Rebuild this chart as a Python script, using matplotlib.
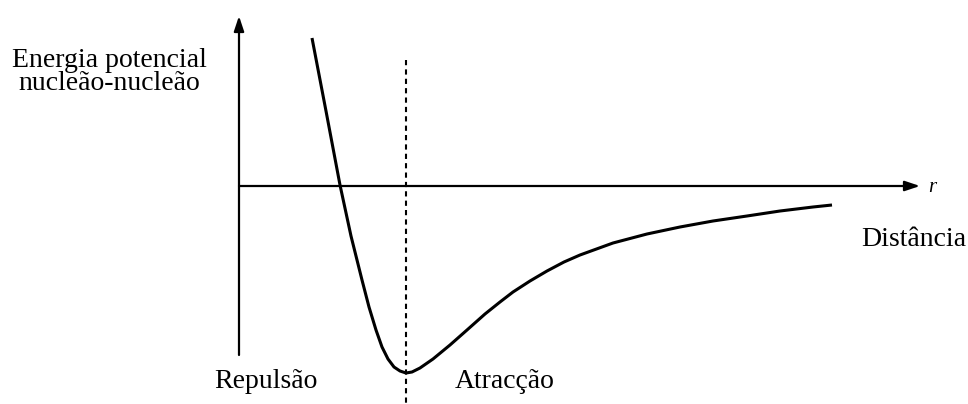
import matplotlib
matplotlib.use("Agg")
import matplotlib.pyplot as plt

# Curve data (arbitrary units: distance r, potential energy E)
r_vals = [0.73, 0.87, 1.01, 1.12, 1.23, 1.30, 1.37, 1.43, 1.49, 1.55, 1.61, 1.67,
          1.73, 1.81, 1.94, 2.11, 2.28, 2.46, 2.61, 2.74, 2.91, 3.08, 3.25, 3.41,
          3.74, 4.08, 4.41, 4.74, 5.08, 5.41, 5.74, 5.93]
E_vals = [1.47, 0.74, 0.0, -0.51, -0.95, -1.22, -1.45, -1.62, -1.74, -1.82, -1.86, -1.88,
          -1.87, -1.83, -1.74, -1.60, -1.45, -1.29, -1.17, -1.07, -0.96, -0.86, -0.77, -0.70,
          -0.58, -0.49, -0.42, -0.36, -0.31, -0.26, -0.22, -0.20]
r_min = 1.67

labels = {
    "ylabel": "Energia potencial\nnucleão-nucleão",
    "xlabel": "Distância",
    "axis": "r",
    "left": "Repulsão",
    "right": "Atracção",
}

plt.rcParams['font.family'] = ['Liberation Serif', 'DejaVu Serif']

fig = plt.figure(figsize=(9.68, 4.04), dpi=100)
ax = fig.add_axes([0, 0, 1, 1])
ax.set_xlim(-2.39, 7.29)
ax.set_ylim(-2.19, 1.85)
ax.axis('off')

astyle = "-|>,head_length=0.9,head_width=0.3"
# axes arrows
ax.annotate("", xy=(0, 1.69), xytext=(0, -1.70),
            arrowprops=dict(arrowstyle=astyle, color="black", lw=1.6,
                            mutation_scale=10, shrinkA=0, shrinkB=0))
ax.annotate("", xy=(6.81, -0.01), xytext=(0, -0.01),
            arrowprops=dict(arrowstyle=astyle, color="black", lw=1.6,
                            mutation_scale=10, shrinkA=0, shrinkB=0))

# dashed line at minimum
ax.plot([r_min, r_min], [1.25, -2.19], color="black", lw=1.5, ls=(0, (2.5, 2)))

# curve
ax.plot(r_vals, E_vals, color="black", lw=2.2, solid_joinstyle='round', solid_capstyle='butt')

ax.text(-1.30, 1.13, labels["ylabel"], ha='center', va='center', fontsize=20, linespacing=0.9)
ax.text(6.89, -0.03, labels["axis"], ha='left', va='center', fontsize=15, style='italic')
ax.text(7.27, -0.55, labels["xlabel"], ha='right', va='center', fontsize=20)
ax.text(0.27, -1.96, labels["left"], ha='center', va='center', fontsize=20)
ax.text(2.66, -1.96, labels["right"], ha='center', va='center', fontsize=20)

fig.savefig("out.png", dpi=100, facecolor="white")
